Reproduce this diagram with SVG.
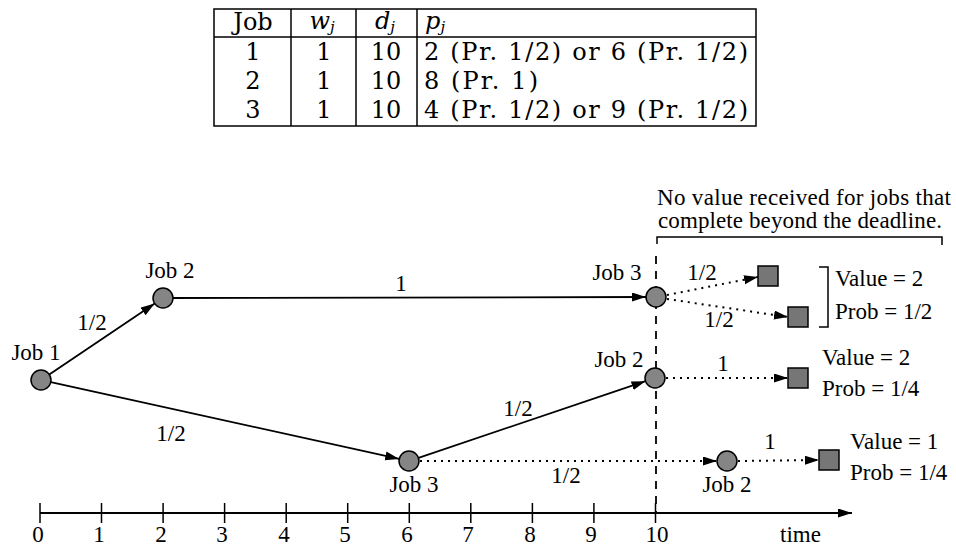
<svg xmlns="http://www.w3.org/2000/svg" width="956" height="546" viewBox="0 0 956 546">
<style>
.t{font-family:"Liberation Serif","Times New Roman",serif;font-size:23px;fill:#000}
.m{text-anchor:middle}
.tb{font-family:"DejaVu Serif","Liberation Serif",serif;font-size:24px;fill:#000}
.it{font-style:italic}
.sub{font-size:15px;font-style:italic}
.grid{stroke:#000;stroke-width:1.5;fill:none}
.edge{stroke:#000;stroke-width:1.8;fill:none}
.dot{stroke:#000;stroke-width:2;fill:none;stroke-dasharray:2 5}
.node{fill:#858585;stroke:#000;stroke-width:1.5}
.sq{fill:#767676;stroke:#000;stroke-width:1.5}
</style>
<defs>
<marker id="ah" markerUnits="userSpaceOnUse" markerWidth="16" markerHeight="10" refX="14" refY="4.5" orient="auto">
<path d="M0,0 L14,4.5 L0,9 z" fill="#000"/>
</marker>
</defs>
<rect width="956" height="546" fill="#fff"/>

<g id="table">
<rect class="grid" x="214" y="9" width="542" height="117"/>
<line class="grid" x1="214" y1="37" x2="756" y2="37"/>
<line class="grid" x1="291" y1="9" x2="291" y2="126"/>
<line class="grid" x1="356" y1="9" x2="356" y2="126"/>
<line class="grid" x1="417" y1="9" x2="417" y2="126"/>
<text class="tb m" x="253" y="30">Job</text>
<text class="tb m" x="322" y="29"><tspan class="it">w</tspan><tspan class="sub" dy="3">j</tspan></text>
<text class="tb m" x="385" y="29"><tspan class="it">d</tspan><tspan class="sub" dy="3">j</tspan></text>
<text class="tb" x="425" y="29"><tspan class="it">p</tspan><tspan class="sub" dy="3">j</tspan></text>
<text class="tb m" x="253" y="60">1</text>
<text class="tb m" x="324" y="60">1</text>
<text class="tb m" x="386" y="60">10</text>
<text class="tb" x="424" y="60" textLength="324" lengthAdjust="spacing">2 (Pr. 1/2) or 6 (Pr. 1/2)</text>
<text class="tb m" x="253" y="89">2</text>
<text class="tb m" x="324" y="89">1</text>
<text class="tb m" x="386" y="89">10</text>
<text class="tb" x="424" y="89" textLength="114" lengthAdjust="spacing">8 (Pr. 1)</text>
<text class="tb m" x="253" y="118">3</text>
<text class="tb m" x="324" y="118">1</text>
<text class="tb m" x="386" y="118">10</text>
<text class="tb" x="424" y="118" textLength="324" lengthAdjust="spacing">4 (Pr. 1/2) or 9 (Pr. 1/2)</text>
</g>

<g id="deadline">
<line x1="656" y1="256" x2="656" y2="513" stroke="#000" stroke-width="1.8" stroke-dasharray="8 7"/>
<path class="grid" d="M657,244 V237 H942 V245"/>
<text class="t m" x="804" y="205" textLength="294" lengthAdjust="spacing">No value received for jobs that</text>
<text class="t m" x="800" y="228" textLength="284" lengthAdjust="spacing">complete beyond the deadline.</text>
</g>

<g id="connectors">
<line class="edge" x1="49.3" y1="374.4" x2="154.7" y2="303.6" marker-end="url(#ah)"/>
<line class="edge" x1="173" y1="298" x2="646" y2="297" marker-end="url(#ah)"/>
<line class="edge" x1="50.8" y1="382.1" x2="399.2" y2="458.9" marker-end="url(#ah)"/>
<line class="edge" x1="418.5" y1="457.8" x2="645.5" y2="381.2" marker-end="url(#ah)"/>
<line class="dot" x1="420" y1="461" x2="717" y2="461" marker-end="url(#ah)"/>
<line class="dot" x1="667" y1="295" x2="758" y2="277" marker-end="url(#ah)"/>
<line class="dot" x1="667" y1="299" x2="788" y2="317" marker-end="url(#ah)"/>
<line class="dot" x1="666" y1="378" x2="788" y2="378" marker-end="url(#ah)"/>
<line class="dot" x1="738" y1="461" x2="819" y2="460" marker-end="url(#ah)"/>
<text class="t m" x="92" y="330">1/2</text>
<text class="t m" x="401" y="291">1</text>
<text class="t m" x="171" y="441">1/2</text>
<text class="t m" x="518" y="416">1/2</text>
<text class="t m" x="566" y="483">1/2</text>
<text class="t m" x="702" y="280">1/2</text>
<text class="t m" x="719" y="327">1/2</text>
<text class="t m" x="723" y="371">1</text>
<text class="t m" x="770" y="449">1</text>
</g>

<g id="job1"><circle class="node" cx="41" cy="380" r="10"/><text class="t m" x="36" y="360">Job 1</text></g>
<g id="job2a"><circle class="node" cx="163" cy="298" r="10"/><text class="t m" x="170" y="278">Job 2</text></g>
<g id="job3a"><circle class="node" cx="656" cy="297" r="10"/><text class="t m" x="617" y="280">Job 3</text></g>
<g id="job2b"><circle class="node" cx="655" cy="378" r="10"/><text class="t m" x="619" y="367">Job 2</text></g>
<g id="job3b"><circle class="node" cx="409" cy="461" r="10"/><text class="t m" x="414" y="492">Job 3</text></g>
<g id="job2c"><circle class="node" cx="727" cy="461" r="10"/><text class="t m" x="727" y="492">Job 2</text></g>

<g id="end1"><rect class="sq" x="758" y="266" width="20" height="20"/></g>
<g id="end2"><rect class="sq" x="788" y="307" width="20" height="20"/></g>
<g id="end3"><rect class="sq" x="788" y="368" width="20" height="20"/></g>
<g id="end4"><rect class="sq" x="819" y="450" width="20" height="20"/></g>

<g id="result1">
<path class="grid" d="M819,267 H828 V327 H819"/>
<text class="t" x="835" y="286">Value = 2</text>
<text class="t" x="835" y="319">Prob = 1/2</text>
</g>
<g id="result2">
<text class="t" x="822" y="365">Value = 2</text>
<text class="t" x="822" y="396">Prob = 1/4</text>
</g>
<g id="result3">
<text class="t" x="850" y="449">Value = 1</text>
<text class="t" x="850" y="480">Prob = 1/4</text>
</g>

<g id="axis">
<line class="edge" x1="40" y1="513" x2="852" y2="513" marker-end="url(#ah)"/>
<g stroke="#000" stroke-width="1.5">
<line x1="40" y1="503" x2="40" y2="523"/>
<line x1="101.5" y1="503" x2="101.5" y2="523"/>
<line x1="163.1" y1="503" x2="163.1" y2="523"/>
<line x1="224.6" y1="503" x2="224.6" y2="523"/>
<line x1="286.2" y1="503" x2="286.2" y2="523"/>
<line x1="347.7" y1="503" x2="347.7" y2="523"/>
<line x1="409.3" y1="503" x2="409.3" y2="523"/>
<line x1="470.8" y1="503" x2="470.8" y2="523"/>
<line x1="532.4" y1="503" x2="532.4" y2="523"/>
<line x1="593.9" y1="503" x2="593.9" y2="523"/>
<line x1="655.5" y1="503" x2="655.5" y2="523"/>
</g>
<text class="t m" x="38" y="542">0</text>
<text class="t m" x="99" y="542">1</text>
<text class="t m" x="161" y="542">2</text>
<text class="t m" x="222" y="542">3</text>
<text class="t m" x="284" y="542">4</text>
<text class="t m" x="345" y="542">5</text>
<text class="t m" x="407" y="542">6</text>
<text class="t m" x="468" y="542">7</text>
<text class="t m" x="530" y="542">8</text>
<text class="t m" x="591" y="542">9</text>
<text class="t m" x="657" y="542">10</text>
<text class="t" x="780" y="542">time</text>
</g>
</svg>
